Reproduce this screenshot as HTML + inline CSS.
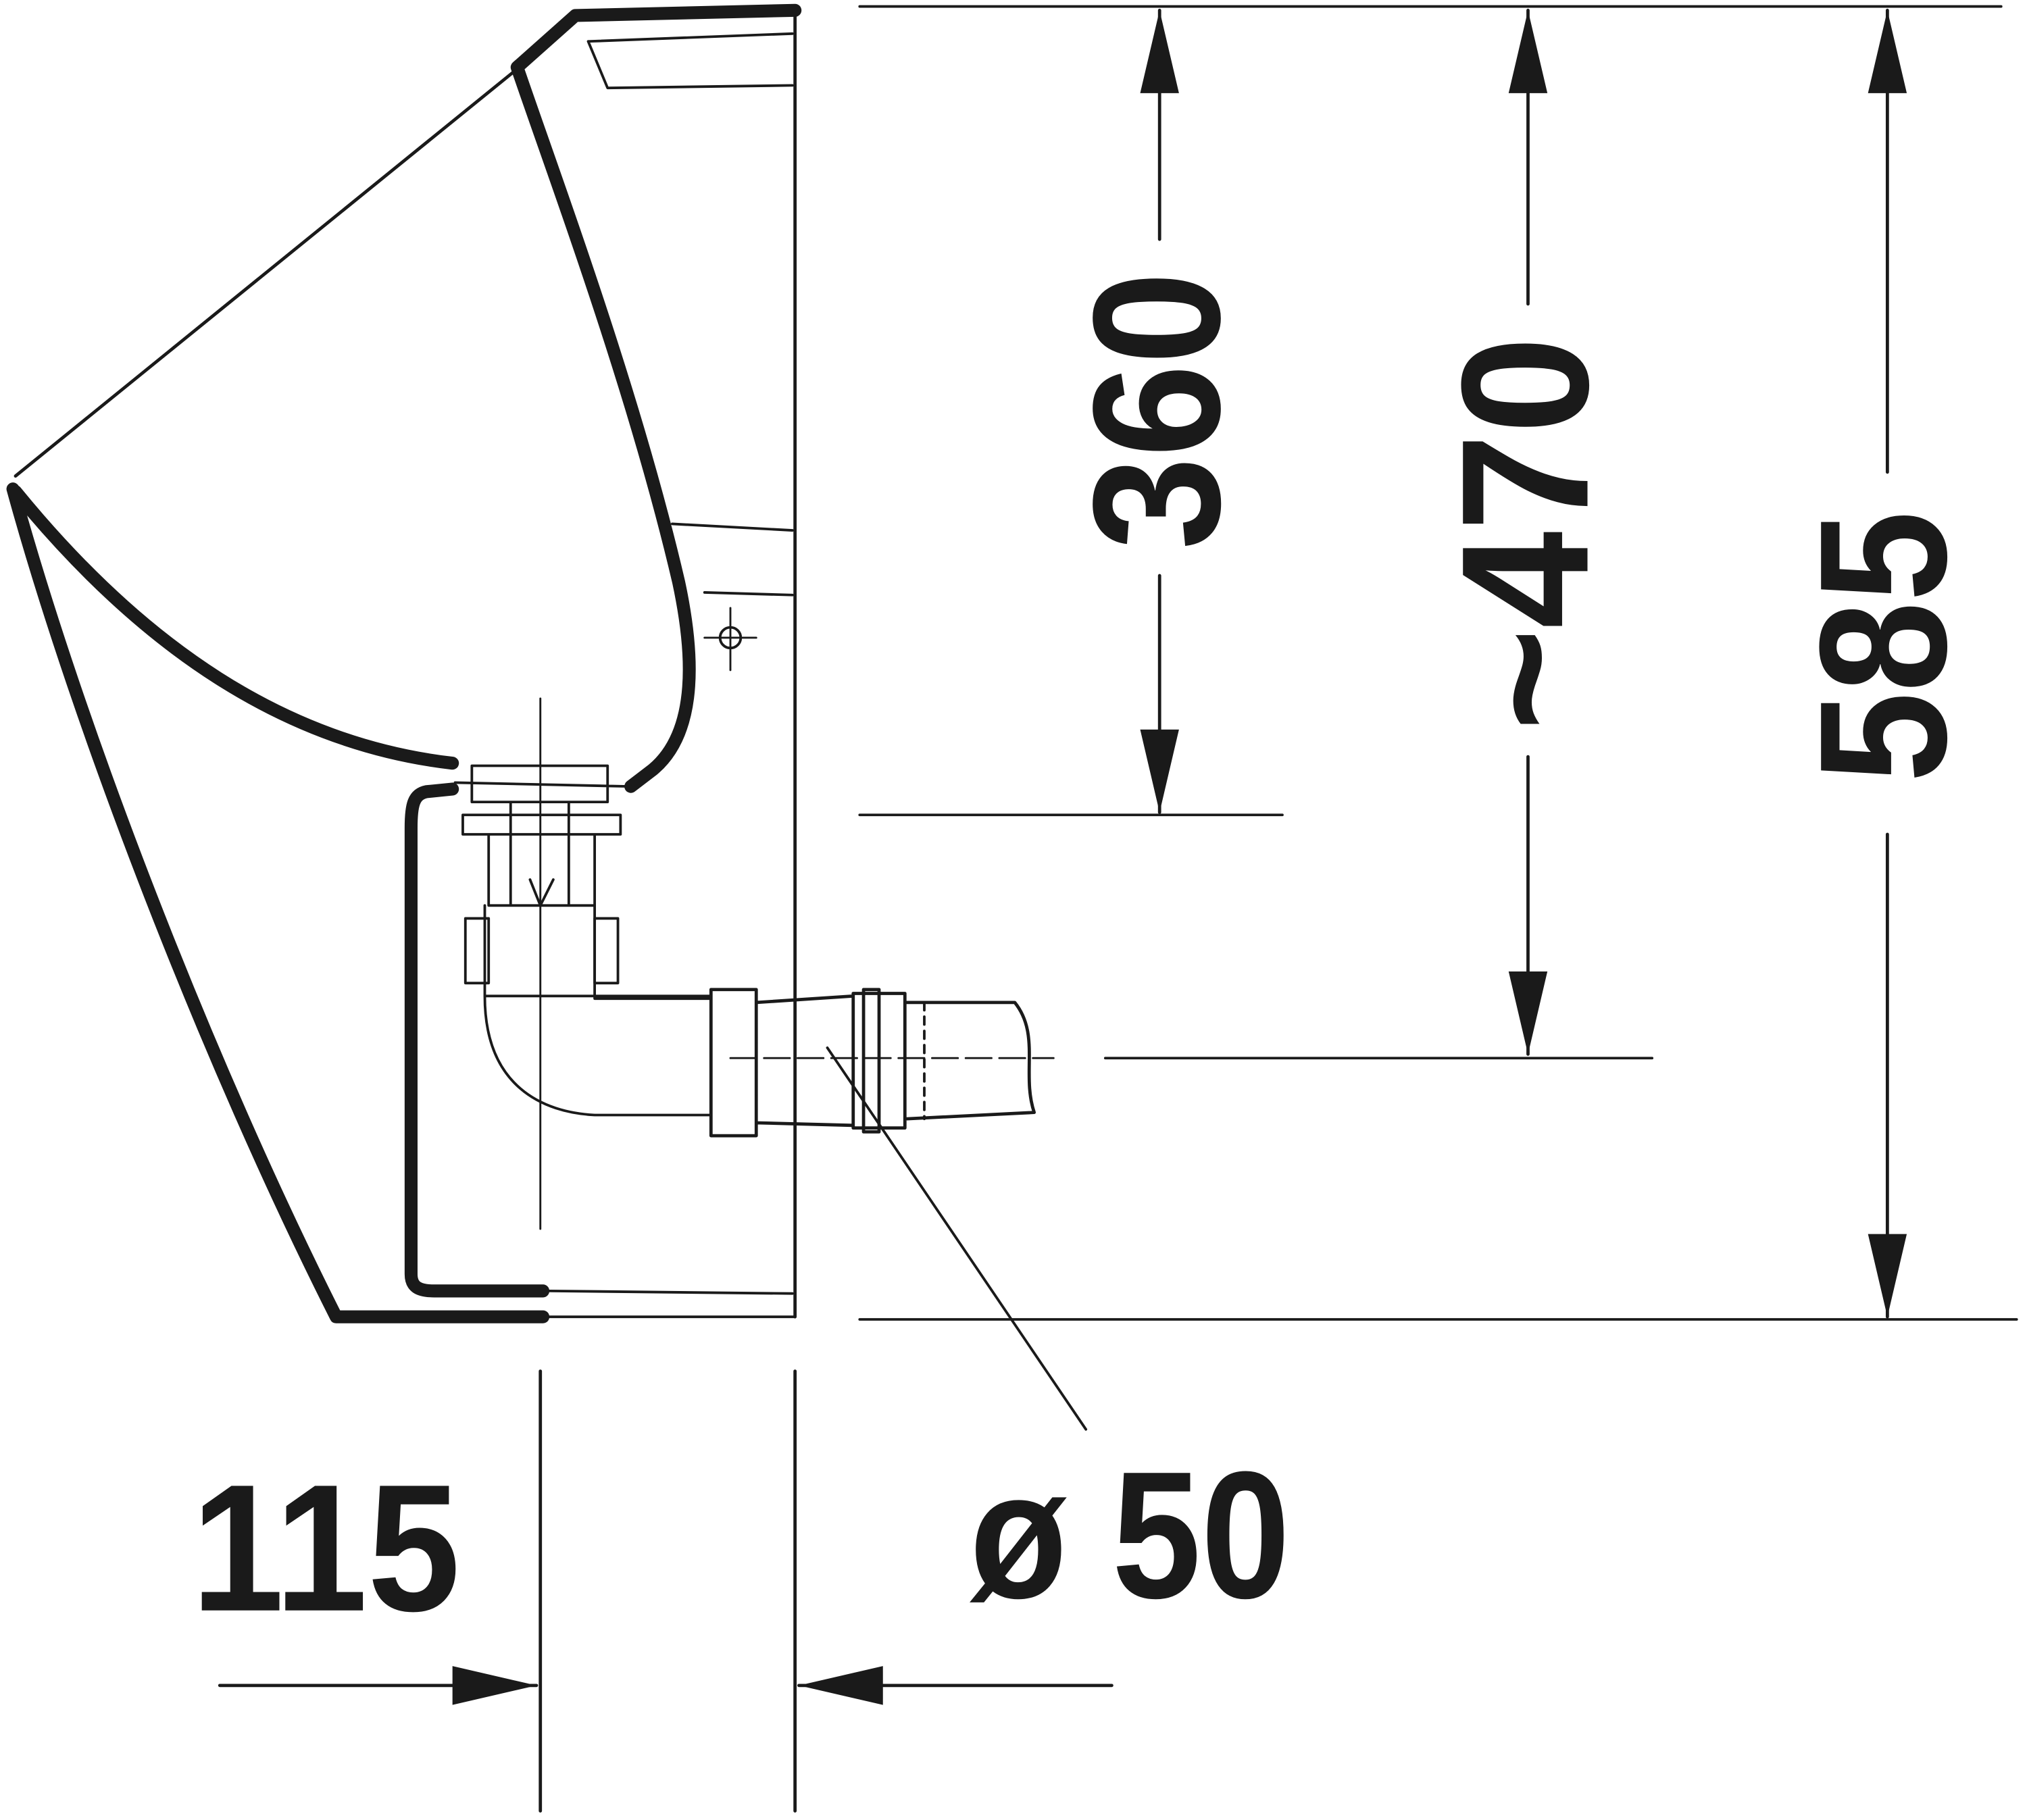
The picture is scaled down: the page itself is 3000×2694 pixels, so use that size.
<!DOCTYPE html>
<html><head><meta charset="utf-8"><style>
html,body{margin:0;padding:0;background:#fff;}
svg{display:block;width:3000px;height:2694px;}
text{font-family:"Liberation Sans Narrow","Liberation Sans",sans-serif;font-weight:bold;fill:#1a1a1a;}
</style></head><body>
<svg viewBox="0 0 1568 1407" preserveAspectRatio="none" xmlns="http://www.w3.org/2000/svg">
<g fill="none" stroke="#1a1a1a" stroke-linejoin="round" stroke-linecap="round">
<!-- thick outlines -->
<path stroke-width="10" d="M615,8 L445,12 L400,52 C430,140 490,300 525,450 C540,520 535,570 505,595 L488,608"/>
<path stroke-width="10" d="M12,380 C110,500 220,575 350,590"/>
<path stroke-width="10" d="M10,378 C60,560 160,820 260,1018 L420,1018"/>
<path stroke-width="10" d="M350,610 L330,612 C320,614 318,622 318,640 L318,985 C318,995 324,998 336,998 L420,998"/>
<!-- thin lines -->
<path stroke-width="2.5" d="M398,55 L12,368"/>
<path stroke-width="2" d="M455,32 L613,26 M455,32 L470,68 L613,66 M520,405 L613,410 M545,458 L613,460 M425,998 L613,1000 M420,1018 L615,1018"/>
<path stroke-width="2.5" d="M615,5 L615,1018"/>
<!-- crosshair -->
<circle cx="565" cy="493" r="8" stroke-width="2"/>
<path stroke-width="1.5" d="M545,493 L585,493 M565,470 L565,518"/>
<!-- drain -->
<path stroke-width="2" d="M352,605 L488,608 M365,592 L470,592 L470,620 L365,620 Z M358,630 L480,630 L480,645 L358,645 Z M378,645 L378,700 L460,700 L460,645 M395,620 L395,700 M440,620 L440,700 M410,680 L418,700 L428,680 M360,710 L378,710 L378,760 L360,760 Z M460,710 L478,710 L478,760 L460,760 Z"/>
<path stroke-width="2" d="M375,700 L375,770 C375,840 420,860 460,862 L550,862 M460,700 L460,772 L550,772 M375,770 L550,770"/>
<path stroke-width="2.5" d="M550,765 L585,765 L585,878 L550,878 Z M585,775 L660,770 M585,868 L660,870 M660,768 L700,768 L700,872 L660,872 Z M668,765 L680,765 L680,875 L668,875 Z M700,775 L785,775 C805,800 790,830 800,860 L700,865"/>
<path stroke-width="2" stroke-dasharray="6,5" d="M585,785 L585,860 M715,775 L715,865"/>
<path stroke-width="1.5" stroke-dasharray="20,6" d="M565,818 L815,818"/>
<path stroke-width="1.5" d="M418,540 L418,950"/>
<path stroke-width="2" d="M640,810 L840,1105"/>
<!-- dimension lines -->
<path stroke-width="2" d="M665,5 L1548,5 M665,630 L992,630 M855,818 L1278,818 M665,1020 L1560,1020"/>
<path stroke-width="2.5" d="M897,8 L897,185 M897,445 L897,628 M1182,8 L1182,235 M1182,585 L1182,815 M1460,8 L1460,365 M1460,645 L1460,1018"/>
<path stroke-width="2.5" d="M418,1060 L418,1400 M615,1060 L615,1400 M170,1303 L415,1303 M618,1303 L860,1303"/>
</g>
<g fill="#1a1a1a">
<polygon points="897,8 882,72 912,72"/>
<polygon points="897,628 882,564 912,564"/>
<polygon points="1182,8 1167,72 1197,72"/>
<polygon points="1182,815 1167,751 1197,751"/>
<polygon points="1460,8 1445,72 1475,72"/>
<polygon points="1460,1018 1445,954 1475,954"/>
<polygon points="415,1303 350,1288 350,1318"/>
<polygon points="618,1303 683,1288 683,1318"/>
</g>
<text transform="translate(943,425) rotate(-90)" font-size="140" textLength="215" lengthAdjust="spacingAndGlyphs">360</text>
<text transform="translate(1228,565) rotate(-90)" font-size="140" textLength="305" lengthAdjust="spacingAndGlyphs">~470</text>
<text transform="translate(1505,605) rotate(-90)" font-size="140" textLength="210" lengthAdjust="spacingAndGlyphs">585</text>
<text x="148" y="1245" font-size="140" textLength="208" lengthAdjust="spacingAndGlyphs">115</text>
<text x="750" y="1235" font-size="140" textLength="248" lengthAdjust="spacingAndGlyphs">ø 50</text>
</svg>
</body></html>
